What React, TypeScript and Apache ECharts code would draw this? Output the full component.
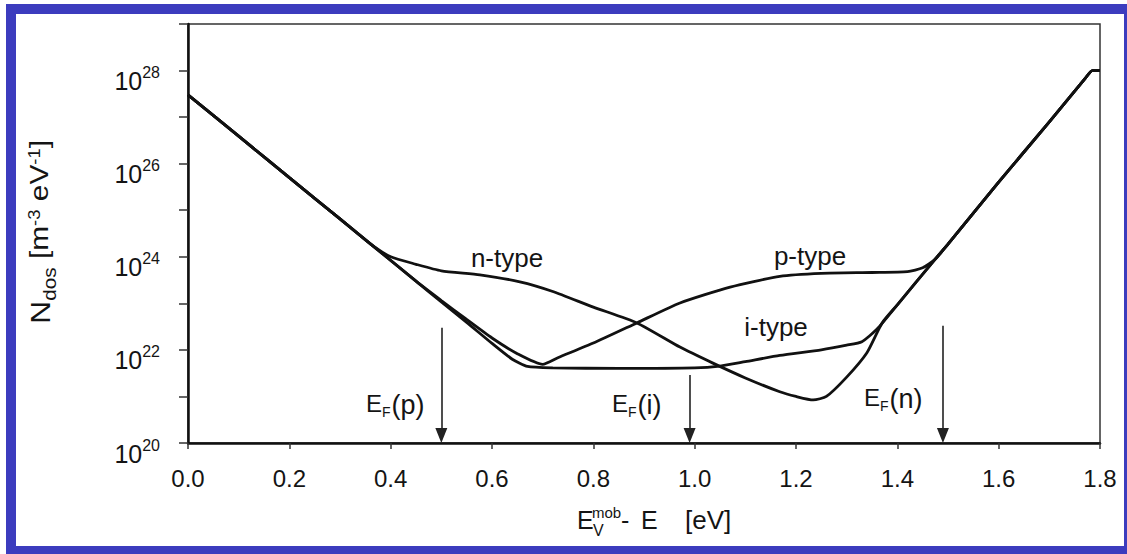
import React, { useEffect, useRef } from 'react';
import * as echarts from 'echarts';

// Energy E (eV) vs. density of states N_dos (m^-3 eV^-1)
const nType: [number, number][] = [
  [0, 3.0e27], [0.1, 3.9e26], [0.2, 5.0e25], [0.3, 6.5e24], [0.36, 1.9e24],
  [0.4, 1.0e24], [0.45, 6.9e23], [0.5, 5.0e23], [0.576, 4.1e23], [0.655, 2.9e23],
  [0.72, 1.8e23], [0.8, 8.3e22], [0.886, 3.8e22], [0.971, 1.15e22], [1.036, 5.2e21],
  [1.1, 2.5e21], [1.168, 1.26e21], [1.2, 1.0e21], [1.234, 8.4e20], [1.26, 1.0e21],
  [1.3, 2.6e21], [1.34, 8.7e21], [1.37, 3.8e22], [1.4, 9.3e22], [1.474, 8.7e23],
  [1.5, 1.86e24], [1.6, 4.0e25], [1.7, 7.9e26], [1.77, 6.6e27], [1.785, 1.0e28],
  [1.8, 1.0e28],
];

const pType: [number, number][] = [
  [0, 3.0e27], [0.1, 3.9e26], [0.2, 5.0e25], [0.3, 6.5e24], [0.36, 1.9e24],
  [0.45, 3.0e23], [0.5, 1.15e23], [0.55, 4.5e22], [0.6, 1.8e22], [0.65, 8.3e21],
  [0.7, 4.9e21], [0.73, 6.8e21], [0.8, 1.4e22], [0.886, 3.8e22], [0.971, 1.02e23],
  [1.07, 2.24e23], [1.168, 3.8e23], [1.25, 4.4e23], [1.35, 4.6e23], [1.42, 4.8e23],
  [1.45, 5.8e23], [1.474, 8.7e23], [1.5, 1.86e24], [1.6, 4.0e25], [1.7, 7.9e26],
  [1.77, 6.6e27], [1.785, 1.0e28], [1.8, 1.0e28],
];

const iType: [number, number][] = [
  [0, 3.0e27], [0.1, 3.9e26], [0.2, 5.0e25], [0.3, 6.5e24], [0.36, 1.9e24],
  [0.45, 3.0e23], [0.5, 1.07e23], [0.55, 3.9e22], [0.6, 1.38e22], [0.64, 6.3e21],
  [0.67, 4.4e21], [0.72, 4.1e21], [0.85, 4.0e21], [1.0, 4.1e21], [1.05, 4.5e21],
  [1.1, 5.6e21], [1.168, 7.6e21], [1.25, 1.0e22], [1.3, 1.26e22], [1.33, 1.5e22],
  [1.36, 2.8e22], [1.4, 9.3e22], [1.474, 8.7e23], [1.5, 1.86e24], [1.6, 4.0e25],
  [1.7, 7.9e26], [1.77, 6.6e27], [1.785, 1.0e28], [1.8, 1.0e28],
];

// Fermi levels (arrows): position and arrow top value
const fermiNames = ['p', 'i', 'n'];
const fermiE = [0.5, 0.99, 1.49];
const fermiArrowTop = [3.0e22, 2.9e21, 3.3e22];
const fermiArrowEnd = 1.45e20;

const X_MIN = 0;
const X_MAX = 1.8;
const X_STEP = 0.2;
const Y_MIN = 1e20;
const Y_MAX = 1e29;

const FONT = '"Liberation Sans", Arial, Helvetica, sans-serif';
const TXT = '#141414';

export default function App() {
  const ref = useRef<HTMLDivElement>(null);

  useEffect(() => {
    document.body.style.margin = '0';
    const chart = echarts.init(ref.current as HTMLDivElement, null, { renderer: 'svg' });

    const lineSeries = (name: string, data: [number, number][]) => ({
      type: 'line',
      name,
      data,
      showSymbol: false,
      smooth: 0.2,
      silent: true,
      lineStyle: { color: '#111', width: 2.8 },
      z: 3,
    });

    const arrows = fermiE.map((e, i) => [
      { coord: [e, fermiArrowTop[i]] },
      { coord: [e, fermiArrowEnd] },
    ]);

    const efLabelPos = [
      [366, 391],
      [612, 391],
      [864, 385],
    ];

    const graphic: any[] = [
      {
        type: 'rect',
        silent: true,
        z: 0,
        shape: { x: 11, y: 9, width: 1118, height: 542 },
        style: { fill: 'none', stroke: '#3c3cbe', lineWidth: 10 },
      },
      {
        type: 'text', x: 507, y: 258, z: 10,
        style: { text: 'n-type', fontFamily: FONT, fontSize: 26, fill: TXT, align: 'center', verticalAlign: 'middle' },
      },
      {
        type: 'text', x: 810, y: 256, z: 10,
        style: { text: 'p-type', fontFamily: FONT, fontSize: 26, fill: TXT, align: 'center', verticalAlign: 'middle' },
      },
      {
        type: 'text', x: 776, y: 327, z: 10,
        style: { text: 'i-type', fontFamily: FONT, fontSize: 26, fill: TXT, align: 'center', verticalAlign: 'middle' },
      },
      ...fermiNames.map((nm, i) => ({
        type: 'text', x: efLabelPos[i][0], y: efLabelPos[i][1], z: 10,
        style: {
          text: `{e|E}{f|F}{g|(${nm})}`,
          align: 'left',
          verticalAlign: 'top',
          rich: {
            e: { fontFamily: FONT, fontSize: 24, lineHeight: 26, verticalAlign: 'top', fill: TXT, color: TXT },
            g: { fontFamily: FONT, fontSize: 27, lineHeight: 26, verticalAlign: 'top', fill: TXT, color: TXT },
            f: { fontFamily: FONT, fontSize: 14, lineHeight: 14, verticalAlign: 'top', padding: [14, 1, 0, 0], fill: TXT, color: TXT },
          },
        },
      })),
      // y axis title
      {
        type: 'text', x: 40, y: 232, rotation: Math.PI / 2, scaleX: 1.15, z: 10,
        style: {
          text: '{n|N}{d|dos}{t| [m}{s|-3}{t| eV}{s|-1}{t|]}',
          align: 'center',
          verticalAlign: 'middle',
          rich: {
            n: { fontFamily: FONT, fontSize: 28, lineHeight: 28, verticalAlign: 'top', fill: TXT, color: TXT },
            d: { fontFamily: FONT, fontSize: 18, lineHeight: 18, verticalAlign: 'top', padding: [14, 0, 0, 0], fill: TXT, color: TXT },
            t: { fontFamily: FONT, fontSize: 26, lineHeight: 28, verticalAlign: 'top', fill: TXT, color: TXT },
            s: { fontFamily: FONT, fontSize: 16, lineHeight: 16, verticalAlign: 'top', fill: TXT, color: TXT },
          },
        },
      },
      // x axis title
      {
        type: 'group', z: 10,
        children: [
          { type: 'text', x: 577, y: 520, style: { text: 'E', fontFamily: FONT, fontSize: 25, fill: TXT, align: 'left', verticalAlign: 'middle' } },
          { type: 'text', x: 592, y: 512, style: { text: 'mob', fontFamily: FONT, fontSize: 15, fill: TXT, align: 'left', verticalAlign: 'middle' } },
          { type: 'text', x: 593, y: 530, style: { text: 'V', fontFamily: FONT, fontSize: 16, fill: TXT, align: 'left', verticalAlign: 'middle' } },
          { type: 'text', x: 621, y: 520, style: { text: '-', fontFamily: FONT, fontSize: 25, fill: TXT, align: 'left', verticalAlign: 'middle' } },
          { type: 'text', x: 641, y: 520, style: { text: 'E', fontFamily: FONT, fontSize: 25, fill: TXT, align: 'left', verticalAlign: 'middle' } },
          { type: 'text', x: 685, y: 520, style: { text: '[eV]', fontFamily: FONT, fontSize: 26, fill: TXT, align: 'left', verticalAlign: 'middle' } },
        ],
      },
    ];

    chart.setOption({
      animation: false,
      backgroundColor: '#ffffff',
      grid: {
        left: 188, right: 27, top: 24, bottom: 111,
        show: true, borderColor: '#333', borderWidth: 1.5,
        containLabel: false, outerBoundsMode: 'none',
      },
      xAxis: {
        type: 'value',
        min: X_MIN, max: X_MAX, interval: X_STEP,
        axisLine: { show: true, onZero: false, lineStyle: { color: '#111', width: 2.5 } },
        axisTick: { show: true, inside: false, length: 6, lineStyle: { color: '#333', width: 1.5 } },
        axisLabel: {
          formatter: (v: number) => v.toFixed(1),
          fontFamily: FONT, fontSize: 24, color: TXT, margin: 23,
        },
        splitLine: { show: false },
      },
      yAxis: {
        type: 'log', logBase: 10,
        min: Y_MIN, max: Y_MAX,
        axisLine: { show: true, onZero: false, lineStyle: { color: '#111', width: 2.5 } },
        axisTick: { show: true, inside: false, length: 9, lineStyle: { color: '#333', width: 1.5 } },
        axisLabel: {
          formatter: (v: number) => {
            const e = Math.round(Math.log10(v));
            if (e % 2 !== 0 || e > 28) return '';
            return `{b|10}{s|${e}}`;
          },
          margin: 28,
          padding: [13, 0, 0, 0],
          rich: {
            b: { fontFamily: FONT, fontSize: 25, lineHeight: 25, verticalAlign: 'top', padding: [4, 0, 0, 0], color: TXT },
            s: { fontFamily: FONT, fontSize: 16, lineHeight: 16, verticalAlign: 'top', color: TXT },
          },
        },
        splitLine: { show: false },
      },
      series: [
        {
          ...lineSeries('n-type', nType),
          markLine: {
            silent: true,
            symbol: ['none', 'triangle'],
            symbolSize: [12, 15],
            label: { show: false },
            lineStyle: { color: '#222', width: 1.6, type: 'solid' },
            data: arrows,
          },
        },
        lineSeries('p-type', pType),
        lineSeries('i-type', iType),
      ],
      graphic,
    });

    return () => chart.dispose();
  }, []);

  return (
    <div
      ref={ref}
      style={{ position: 'fixed', left: 0, top: 0, width: 1127, height: 554 }}
    />
  );
}
